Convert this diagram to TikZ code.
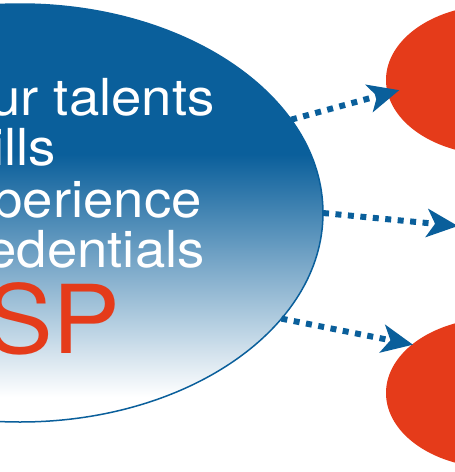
\documentclass[tikz,border=0pt]{standalone}
\usepackage{fontspec}
\setmainfont{TeX Gyre Heros}
\newfontfamily\widefont[FakeStretch=1.07]{TeX Gyre Heros}
\usepackage{xcolor}
\usepackage{tikz}
\usetikzlibrary{shapes.geometric, arrows.meta}
\definecolor{corecolor}{HTML}{0A5F9B}
\definecolor{goalcolor}{HTML}{E53B1A}
\pgfdeclareverticalshading{coreshade}{100bp}{color(0bp)=(white); color(28bp)=(white); color(57bp)=(corecolor); color(100bp)=(corecolor)}

\begin{document}
\begin{tikzpicture}[x=1pt, y=-1pt]
  \useasboundingbox (0,0) rectangle (455,472);
  \clip (0,0) rectangle (455,472);
  \node[ellipse, draw=corecolor, line width=1.5pt, shade, shading=coreshade,
    minimum width=606pt, minimum height=418pt, inner sep=0pt, outer sep=0pt] (core) at (20,213) {};
  \node[ellipse, fill=goalcolor, minimum width=220pt, minimum height=150pt,
    inner sep=0pt, outer sep=0pt] (goaltop) at (496,80) {};
  \node[ellipse, fill=goalcolor, minimum width=220pt, minimum height=150pt,
    inner sep=0pt, outer sep=0pt] (goalbottom) at (496,393) {};
  \coordinate (goalmid) at (458,226);
  \foreach \x/\y/\txt in {
    215/115/ur talents, 56/165/ills,
    202/217/perience,   205/267/edentials} {
    \node[anchor=base east, inner sep=0pt, text=white,
      font=\widefont\fontsize{51}{51}\selectfont] (line\y) at (\x,\y) {\txt};
  }
  \node[anchor=base east, inner sep=0pt, text=goalcolor,
    font=\widefont\fontsize{95}{95}\selectfont] (usp) at (121,353) {SP};
  \foreach \from/\to/\gap in {
    core.19/goaltop.187/-12pt, core.0/goalmid/0pt, core.-22/goalbottom.150/-1pt} {
    \draw[-{Stealth[length=31pt, width=28pt, inset=8pt]}, corecolor, line width=6pt,
      dash pattern=on 6pt off 6.5pt, shorten >=\gap] (\from) -- (\to);
  }
\end{tikzpicture}
\end{document}
